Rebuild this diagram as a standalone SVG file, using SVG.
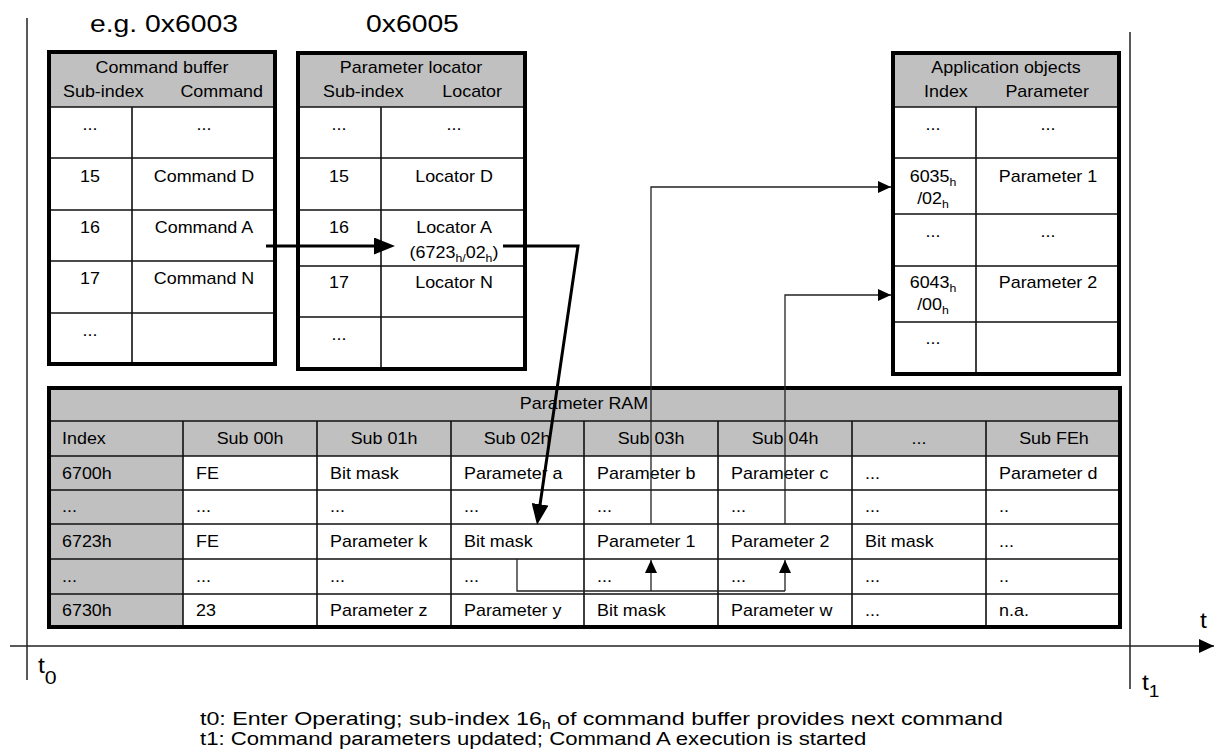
<svg xmlns="http://www.w3.org/2000/svg" width="1217" height="756" viewBox="0 0 1217 756">
<style>
  text { font-family: "Liberation Sans", Arial, Helvetica, sans-serif; font-size: 16px; fill: #000; }
  .m { text-anchor: middle; }
  .e { text-anchor: end; }
  .big { font-size: 24px; }
  .tl { font-size: 22px; }
  .foot { font-size: 18px; }
  .hdr { fill: #c0c0c0; stroke: none; }
  .cell { fill: #ffffff; stroke: none; }
  .grid { stroke: #111; stroke-width: 1.6; fill: none; }
  .frame { stroke: #000; stroke-width: 4; fill: none; }
  .axis { stroke: #222; stroke-width: 1.5; fill: none; }
  .thick { stroke: #000; stroke-width: 3; fill: none; }
  .thin { stroke: #222; stroke-width: 1.3; fill: none; }
</style>
<defs>
  <marker id="ahThick" markerUnits="userSpaceOnUse" markerWidth="21" markerHeight="17" refX="13" refY="8.5" orient="auto">
    <path d="M0,0 L21,8.5 L0,17 z" fill="#000"/>
  </marker>
  <marker id="ahThin" markerUnits="userSpaceOnUse" markerWidth="13" markerHeight="12" refX="13" refY="6" orient="auto">
    <path d="M0,0 L13,6 L0,12 z" fill="#000"/>
  </marker>
  <marker id="ahAxis" markerUnits="userSpaceOnUse" markerWidth="15" markerHeight="14" refX="15" refY="7" orient="auto">
    <path d="M0,0 L15,7 L0,14 z" fill="#000"/>
  </marker>
</defs>
<rect x="0" y="0" width="1217" height="756" fill="#ffffff"/>

<g id="timeline">
  <line class="axis" x1="27" y1="18" x2="27" y2="680"/>
  <line class="axis" x1="1130" y1="32" x2="1130" y2="689"/>
  <line class="axis" x1="10" y1="646" x2="1214" y2="646" marker-end="url(#ahAxis)"/>
  <text class="tl" transform="matrix(1.12 0 0 1 1200 628)">t</text>
  <text class="tl" transform="matrix(1.12 0 0 1 38 673)">t<tspan font-size="19" dy="11">0</tspan></text>
  <text class="tl" transform="matrix(1.12 0 0 1 1142 690)">t<tspan font-size="17" dy="7">1</tspan></text>
</g>

<g id="label-6003">
  <text class="big" transform="matrix(1.18 0 0 1 90 32)">e.g. 0x6003</text>
</g>
<g id="label-6005">
  <text class="big" transform="matrix(1.18 0 0 1 366 32)">0x6005</text>
</g>

<g id="command-buffer">
  <rect class="cell" x="47" y="50" width="230" height="316"/>
  <rect class="hdr" x="47" y="50" width="230" height="57"/>
  <path class="grid" d="M47,107 H277 M47,158 H277 M47,210 H277 M47,261 H277 M47,313 H277 M132,107 V366"/>
  <rect class="frame" x="49" y="52" width="226" height="312"/>
  <text class="m" transform="matrix(1.12 0 0 1 162 73)">Command buffer</text>
  <text transform="matrix(1.12 0 0 1 63 97)">Sub-index</text>
  <text class="e" transform="matrix(1.12 0 0 1 263 97)">Command</text>
  <text class="m" transform="matrix(1.12 0 0 1 90 130)">...</text>
  <text class="m" transform="matrix(1.12 0 0 1 204 130)">...</text>
  <text class="m" transform="matrix(1.12 0 0 1 90 182)">15</text>
  <text class="m" transform="matrix(1.12 0 0 1 204 182)">Command D</text>
  <text class="m" transform="matrix(1.12 0 0 1 90 233)">16</text>
  <text class="m" transform="matrix(1.12 0 0 1 204 233)">Command A</text>
  <text class="m" transform="matrix(1.12 0 0 1 90 284)">17</text>
  <text class="m" transform="matrix(1.12 0 0 1 204 284)">Command N</text>
  <text class="m" transform="matrix(1.12 0 0 1 90 336)">...</text>
</g>

<g id="parameter-locator">
  <rect class="cell" x="296" y="51" width="231" height="320"/>
  <rect class="hdr" x="296" y="51" width="231" height="56"/>
  <path class="grid" d="M296,107 H527 M296,158 H527 M296,210 H527 M296,266 H527 M296,317 H527 M381,107 V371"/>
  <rect class="frame" x="298" y="53" width="227" height="316"/>
  <text class="m" transform="matrix(1.12 0 0 1 411 73)">Parameter locator</text>
  <text transform="matrix(1.12 0 0 1 323 97)">Sub-index</text>
  <text class="e" transform="matrix(1.12 0 0 1 502 97)">Locator</text>
  <text class="m" transform="matrix(1.12 0 0 1 339 130)">...</text>
  <text class="m" transform="matrix(1.12 0 0 1 454 130)">...</text>
  <text class="m" transform="matrix(1.12 0 0 1 339 182)">15</text>
  <text class="m" transform="matrix(1.12 0 0 1 454 182)">Locator D</text>
  <text class="m" transform="matrix(1.12 0 0 1 339 233)">16</text>
  <text class="m" transform="matrix(1.12 0 0 1 454 233)">Locator A</text>
  <text class="m" transform="matrix(1.12 0 0 1 454 258)">(6723<tspan font-size="11" dy="4">h/</tspan><tspan dy="-4">02</tspan><tspan font-size="11" dy="4">h</tspan><tspan dy="-4">)</tspan></text>
  <text class="m" transform="matrix(1.12 0 0 1 339 288)">17</text>
  <text class="m" transform="matrix(1.12 0 0 1 454 288)">Locator N</text>
  <text class="m" transform="matrix(1.12 0 0 1 339 340)">...</text>
</g>

<g id="application-objects">
  <rect class="cell" x="891" y="51" width="230" height="325"/>
  <rect class="hdr" x="891" y="51" width="230" height="56"/>
  <path class="grid" d="M891,107 H1121 M891,158 H1121 M891,214 H1121 M891,266 H1121 M891,322 H1121 M976,107 V376"/>
  <rect class="frame" x="893" y="53" width="226" height="321"/>
  <text class="m" transform="matrix(1.12 0 0 1 1006 73)">Application objects</text>
  <text transform="matrix(1.12 0 0 1 924 97)">Index</text>
  <text class="e" transform="matrix(1.12 0 0 1 1089 97)">Parameter</text>
  <text class="m" transform="matrix(1.12 0 0 1 933 130)">...</text>
  <text class="m" transform="matrix(1.12 0 0 1 1048 130)">...</text>
  <text class="m" transform="matrix(1.12 0 0 1 933 182)">6035<tspan font-size="11" dy="4">h</tspan></text>
  <text class="m" transform="matrix(1.12 0 0 1 933 204)">/02<tspan font-size="11" dy="4">h</tspan></text>
  <text class="m" transform="matrix(1.12 0 0 1 1048 182)">Parameter 1</text>
  <text class="m" transform="matrix(1.12 0 0 1 933 237)">...</text>
  <text class="m" transform="matrix(1.12 0 0 1 1048 237)">...</text>
  <text class="m" transform="matrix(1.12 0 0 1 933 288)">6043<tspan font-size="11" dy="4">h</tspan></text>
  <text class="m" transform="matrix(1.12 0 0 1 933 310)">/00<tspan font-size="11" dy="4">h</tspan></text>
  <text class="m" transform="matrix(1.12 0 0 1 1048 288)">Parameter 2</text>
  <text class="m" transform="matrix(1.12 0 0 1 933 344)">...</text>
</g>

<g id="parameter-ram">
  <rect class="cell" x="47" y="386" width="1075" height="243"/>
  <rect class="hdr" x="47" y="386" width="1075" height="70"/>
  <rect class="hdr" x="47" y="456" width="136" height="173"/>
  <path class="grid" d="M47,421 H1122 M47,456 H1122 M47,490 H1122 M47,524 H1122 M47,559 H1122 M47,594 H1122
    M183,421 V629 M317,421 V629 M451,421 V629 M584,421 V629 M718,421 V629 M852,421 V629 M986,421 V629"/>
  <rect class="frame" x="49" y="388" width="1071" height="239"/>
  <text class="m" transform="matrix(1.12 0 0 1 584 409)">Parameter RAM</text>
  <text transform="matrix(1.12 0 0 1 62 444)">Index</text>
  <text class="m" transform="matrix(1.12 0 0 1 250 444)">Sub 00h</text>
  <text class="m" transform="matrix(1.12 0 0 1 384 444)">Sub 01h</text>
  <text class="m" transform="matrix(1.12 0 0 1 517 444)">Sub 02h</text>
  <text class="m" transform="matrix(1.12 0 0 1 651 444)">Sub 03h</text>
  <text class="m" transform="matrix(1.12 0 0 1 785 444)">Sub 04h</text>
  <text class="m" transform="matrix(1.12 0 0 1 919 444)">...</text>
  <text class="m" transform="matrix(1.12 0 0 1 1054 444)">Sub FEh</text>

  <text transform="matrix(1.12 0 0 1 62 479)">6700h</text>
  <text transform="matrix(1.12 0 0 1 196 479)">FE</text>
  <text transform="matrix(1.12 0 0 1 330 479)">Bit mask</text>
  <text transform="matrix(1.12 0 0 1 464 479)">Parameter a</text>
  <text transform="matrix(1.12 0 0 1 597 479)">Parameter b</text>
  <text transform="matrix(1.12 0 0 1 731 479)">Parameter c</text>
  <text transform="matrix(1.12 0 0 1 865 479)">...</text>
  <text transform="matrix(1.12 0 0 1 999 479)">Parameter d</text>

  <text transform="matrix(1.12 0 0 1 62 512)">...</text>
  <text transform="matrix(1.12 0 0 1 196 512)">...</text>
  <text transform="matrix(1.12 0 0 1 330 512)">...</text>
  <text transform="matrix(1.12 0 0 1 464 512)">...</text>
  <text transform="matrix(1.12 0 0 1 597 512)">...</text>
  <text transform="matrix(1.12 0 0 1 731 512)">...</text>
  <text transform="matrix(1.12 0 0 1 865 512)">...</text>
  <text transform="matrix(1.12 0 0 1 999 512)">..</text>

  <text transform="matrix(1.12 0 0 1 62 547)">6723h</text>
  <text transform="matrix(1.12 0 0 1 196 547)">FE</text>
  <text transform="matrix(1.12 0 0 1 330 547)">Parameter k</text>
  <text transform="matrix(1.12 0 0 1 464 547)">Bit mask</text>
  <text transform="matrix(1.12 0 0 1 597 547)">Parameter 1</text>
  <text transform="matrix(1.12 0 0 1 731 547)">Parameter 2</text>
  <text transform="matrix(1.12 0 0 1 865 547)">Bit mask</text>
  <text transform="matrix(1.12 0 0 1 999 547)">...</text>

  <text transform="matrix(1.12 0 0 1 62 582)">...</text>
  <text transform="matrix(1.12 0 0 1 196 582)">...</text>
  <text transform="matrix(1.12 0 0 1 330 582)">...</text>
  <text transform="matrix(1.12 0 0 1 464 582)">...</text>
  <text transform="matrix(1.12 0 0 1 597 582)">...</text>
  <text transform="matrix(1.12 0 0 1 731 582)">...</text>
  <text transform="matrix(1.12 0 0 1 865 582)">...</text>
  <text transform="matrix(1.12 0 0 1 999 582)">..</text>

  <text transform="matrix(1.12 0 0 1 62 616)">6730h</text>
  <text transform="matrix(1.12 0 0 1 196 616)">23</text>
  <text transform="matrix(1.12 0 0 1 330 616)">Parameter z</text>
  <text transform="matrix(1.12 0 0 1 464 616)">Parameter y</text>
  <text transform="matrix(1.12 0 0 1 597 616)">Bit mask</text>
  <text transform="matrix(1.12 0 0 1 731 616)">Parameter w</text>
  <text transform="matrix(1.12 0 0 1 865 616)">...</text>
  <text transform="matrix(1.12 0 0 1 999 616)">n.a.</text>
</g>

<g id="connectors">
  <path class="thick" d="M266,246 H387" marker-end="url(#ahThick)"/>
  <path class="thick" d="M503,246 H578 L538.2,517.1" marker-end="url(#ahThick)"/>
  <path class="thin" d="M651,524 V187 H891" marker-end="url(#ahThin)"/>
  <path class="thin" d="M785,524 V295 H891" marker-end="url(#ahThin)"/>
  <path class="thin" d="M517,559 V591 H785"/>
  <path class="thin" d="M651,591 V560" marker-end="url(#ahThin)"/>
  <path class="thin" d="M785,591 V560" marker-end="url(#ahThin)"/>
</g>

<g id="legend">
  <text class="foot" transform="matrix(1.29 0 0 1 200 725)">t0: Enter Operating; sub-index 16<tspan font-size="12" dy="4">h</tspan><tspan dy="-4"> of command buffer provides next command</tspan></text>
  <text class="foot" transform="matrix(1.23 0 0 1 200 745)">t1: Command parameters updated; Command A execution is started</text>
</g>
</svg>
